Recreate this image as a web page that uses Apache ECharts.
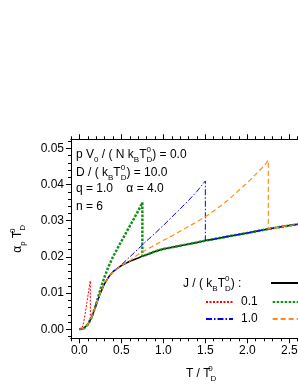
<!DOCTYPE html>
<html><head><meta charset="utf-8">
<script src="https://cdn.jsdelivr.net/npm/echarts@6/dist/echarts.min.js"></script>
<style>html,body{margin:0;padding:0;overflow:hidden;background:#fff}#c{width:360px;height:385px}</style>
</head><body><div id="c"></div>
<script>
// ---- data ----
const xMajorTicks = [0, 0.5, 1.0, 1.5, 2.0, 2.5, 3.0];
const xMinorTicks = [-0.1,0.1,0.2,0.3,0.4,0.6,0.7,0.8,0.9,1.1,1.2,1.3,1.4,1.6,1.7,1.8,1.9,2.1,2.2,2.3,2.4,2.6,2.7,2.8,2.9];
const yMajorTicks = [0, 0.01, 0.02, 0.03, 0.04, 0.05];
const yMinorTicks = [-0.002,0.002,0.004,0.006,0.008,0.012,0.014,0.016,0.018,0.022,0.024,0.026,0.028,0.032,0.034,0.036,0.038,0.042,0.044,0.046,0.048,0.052];

const legendNames = ['0.0', '0.1', '0.5', '1.0', '1.5'];

const T_J00 = [0,0.05,0.1,0.15,0.2,0.25,0.3,0.35,0.4,0.5,0.6,0.7,0.75,0.8,0.9,1.0,1.2,1.4,1.5,1.6,1.8,2.0,2.2,2.25,2.4,2.6,2.8,3.0];
const a_J00 = [0,0.0002,0.0013,0.0035,0.0068,0.0100,0.0126,0.0145,0.0159,0.0176,0.0188,0.0197,0.0202,0.0206,0.0215,0.0222,0.0231,0.0240,0.0245,0.0249,0.0258,0.0266,0.0275,0.0277,0.0283,0.0290,0.0297,0.0304];

const T_J01 = [0,0.03,0.05,0.07,0.09,0.11,0.13,0.13];
const a_J01 = [0,0.0002,0.0018,0.0045,0.0075,0.0105,0.0134,0.0026];

const T_J05 = [0,0.05,0.1,0.15,0.2,0.25,0.3,0.35,0.4,0.45,0.5,0.55,0.6,0.65,0.7,0.75,0.75,0.8,0.9,1.0,1.2,1.4,1.5,1.6,1.8,2.0,2.2,2.4,2.6,2.8,3.0];
const a_J05 = [0,0.0002,0.0013,0.0035,0.0070,0.0110,0.0145,0.0175,0.0200,0.0222,0.0243,0.0264,0.0285,0.0306,0.0327,0.0350,0.0202,0.0206,0.0215,0.0222,0.0231,0.0240,0.0245,0.0249,0.0258,0.0266,0.0275,0.0283,0.0290,0.0297,0.0304];

const T_J10 = [0,0.05,0.1,0.15,0.2,0.25,0.3,0.35,0.4,0.5,0.6,0.7,0.8,0.9,1.0,1.1,1.2,1.3,1.4,1.5,1.5,1.6,1.8,2.0,2.2,2.4,2.6,2.8,3.0];
const a_J10 = [0,0.0002,0.0013,0.0035,0.0068,0.0100,0.0126,0.0145,0.0159,0.0178,0.0200,0.0222,0.0244,0.0265,0.0287,0.0310,0.0333,0.0356,0.0381,0.0410,0.0245,0.0249,0.0258,0.0266,0.0275,0.0283,0.0290,0.0297,0.0304];

const T_J15 = [0,0.05,0.1,0.15,0.2,0.25,0.3,0.35,0.4,0.5,0.6,0.7,0.8,0.9,1.0,1.1,1.2,1.3,1.4,1.5,1.6,1.7,1.8,1.9,2.0,2.1,2.2,2.25,2.25,2.4,2.6,2.8,3.0];
const a_J15 = [0,0.0002,0.0013,0.0035,0.0068,0.0100,0.0126,0.0145,0.0159,0.0176,0.0189,0.0207,0.0220,0.0233,0.0246,0.0258,0.0271,0.0284,0.0297,0.0311,0.0327,0.0344,0.0363,0.0384,0.0405,0.0428,0.0452,0.0467,0.0277,0.0283,0.0290,0.0297,0.0304];

// ---- chart ----
const zip = (xs, ys) => xs.map((x, i) => [x, ys[i]]);
const FONT = '"Liberation Sans", Arial, sans-serif';
const rich = {
  m: {fontSize: 12, lineHeight: 18, fontFamily: FONT, color: '#000'},
  sub: {fontSize: 8, lineHeight: 8, verticalAlign: 'bottom', fontFamily: FONT, color: '#000'},
  sup: {fontSize: 8, lineHeight: 8, verticalAlign: 'top', fontFamily: FONT, color: '#000'},
  supz: {fontSize: 8, lineHeight: 8, verticalAlign: 'top', width: 0, fontFamily: FONT, color: '#000'}
};
const XMIN = -0.1, XMAX = 3.0, YMIN = -0.0025, YMAX = 0.0525;

function xAx(pos, vals, len, labels) {
  return {
    type: 'value', position: pos, min: XMIN, max: XMAX,
    axisLine: {show: true, onZero: false, lineStyle: {color: '#000', width: 1}},
    axisTick: {show: true, inside: false, length: len, customValues: vals, lineStyle: {color: '#000', width: 1}},
    axisLabel: labels ? {show: true, customValues: vals, margin: 6, fontSize: 12, fontFamily: FONT, color: '#000', formatter: v => v.toFixed(1)} : {show: false},
    splitLine: {show: false}
  };
}
function yAx(pos, vals, len, labels) {
  return {
    type: 'value', position: pos, min: YMIN, max: YMAX,
    axisLine: {show: true, onZero: false, lineStyle: {color: '#000', width: 1}},
    axisTick: {show: true, inside: false, length: len, customValues: vals, lineStyle: {color: '#000', width: 1}},
    axisLabel: labels ? {show: true, customValues: vals, margin: 7, fontSize: 12, fontFamily: FONT, color: '#000', formatter: v => v.toFixed(2)} : {show: false},
    splitLine: {show: false}
  };
}

const xAxes = [xAx('bottom', xMajorTicks, 5, true), xAx('bottom', xMinorTicks, 3, false), xAx('top', xMajorTicks, 5, false), xAx('top', xMinorTicks, 3, false)];
xAxes[0].name = '{m|T / T}{supz|0}{sub|D}';
xAxes[0].nameLocation = 'middle';
xAxes[0].nameGap = 26;
xAxes[0].nameTextStyle = {rich: rich};
const yAxes = [yAx('left', yMajorTicks, 5, true), yAx('left', yMinorTicks, 3, false), yAx('right', yMajorTicks, 5, false), yAx('right', yMinorTicks, 3, false)];
yAxes[0].name = '{m|α}{sub|p}{m| T}{supz|0}{sub|D}';
yAxes[0].nameLocation = 'middle';
yAxes[0].nameGap = 44;
yAxes[0].nameRotate = 90;
yAxes[0].nameTextStyle = {rich: rich};

function ser(name, xs, ys, color, width, type) {
  return {name: name, type: 'line', data: zip(xs, ys), symbol: 'none', smooth: false, animation: false,
    lineStyle: {color: color, width: width, type: type}, itemStyle: {color: color}};
}

const series = [
  ser(legendNames[0], T_J00, a_J00, '#000000', 1.5, 'solid'),
  ser(legendNames[1], T_J01, a_J01, '#ff0000', 1, [2, 1.5]),
  ser(legendNames[2], T_J05, a_J05, '#12901a', 2.5, [2.5, 1.5]),
  ser(legendNames[3], T_J10, a_J10, '#0000ff', 1, [6, 2, 1.5, 2]),
  ser(legendNames[4], T_J15, a_J15, '#ff8c1a', 1.2, [5, 3])
];

function lg(names, top) {
  return {data: names, left: 205, top: top, orient: 'horizontal', padding: 0, itemWidth: 27, itemHeight: 14, itemGap: 14,
    itemStyle: {opacity: 0, borderWidth: 0},
    textStyle: {fontSize: 12, fontFamily: FONT, color: '#000', padding: [0, 0, 0, 3]}, selectedMode: false};
}
const legA = lg([legendNames[0]], 277); legA.left = 270;

const chart = echarts.init(document.getElementById('c'), null, {renderer: 'canvas'});
chart.setOption({
  animation: false,
  backgroundColor: '#fff',
  grid: {left: 71, top: 139.3, right: 28.7, bottom: 46.7, containLabel: false, outerBoundsMode: 'none'},
  xAxis: xAxes,
  yAxis: yAxes,
  legend: [legA, lg([legendNames[1], legendNames[2]], 296), lg([legendNames[3], legendNames[4]], 313)],
  series: series,
  graphic: [
    {type: 'text', left: 76, top: 146, style: {text: '{m|p V}{sub|0}{m| / ( N k}{sub|B}{m|T}{supz|0}{sub|D}{m|) = 0.0}', rich: rich}},
    {type: 'text', left: 76, top: 164, style: {text: '{m|D / ( k}{sub|B}{m|T}{supz|0}{sub|D}{m|) = 10.0}', rich: rich}},
    {type: 'text', left: 76, top: 183, style: {text: '{m|q = 1.0    α = 4.0}', rich: rich}},
    {type: 'text', left: 76, top: 201, style: {text: '{m|n = 6}', rich: rich}},
    {type: 'text', left: 183, top: 275, style: {text: '{m|J / ( k}{sub|B}{m|T}{supz|0}{sub|D}{m|) :}', rich: rich}}
  ]
});
</script></body></html>
